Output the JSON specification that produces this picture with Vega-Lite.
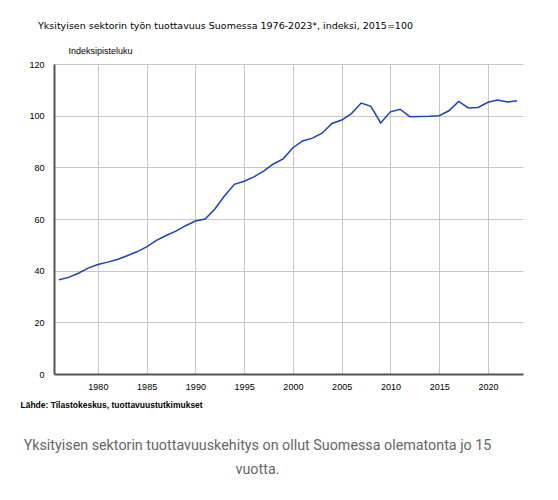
{
  "$schema": "https://vega.github.io/schema/vega-lite/v6.json",
  "width": 469,
  "height": 310,
  "autosize": {"type": "none"},
  "padding": {"left": 54, "top": 64, "right": 35, "bottom": 126},
  "background": "white",
  "title": {
    "text": "Yksityisen sektorin työn tuottavuus Suomessa 1976-2023*, indeksi, 2015=100",
    "anchor": "start",
    "frame": "group",
    "font": "DejaVu Sans",
    "fontSize": 9.5,
    "fontWeight": "normal",
    "color": "#000000",
    "baseline": "alphabetic",
    "dx": -16,
    "offset": 8
  },
  "config": {"view": {"stroke": null}},
  "data": {
    "values": [
      {"vuosi": 1976, "indeksi": 36.5},
      {"vuosi": 1977, "indeksi": 37.4},
      {"vuosi": 1978, "indeksi": 39.0},
      {"vuosi": 1979, "indeksi": 41.0},
      {"vuosi": 1980, "indeksi": 42.4},
      {"vuosi": 1981, "indeksi": 43.3},
      {"vuosi": 1982, "indeksi": 44.3},
      {"vuosi": 1983, "indeksi": 45.8},
      {"vuosi": 1984, "indeksi": 47.3},
      {"vuosi": 1985, "indeksi": 49.2},
      {"vuosi": 1986, "indeksi": 51.7},
      {"vuosi": 1987, "indeksi": 53.6},
      {"vuosi": 1988, "indeksi": 55.3},
      {"vuosi": 1989, "indeksi": 57.4},
      {"vuosi": 1990, "indeksi": 59.2},
      {"vuosi": 1991, "indeksi": 60.0},
      {"vuosi": 1992, "indeksi": 63.9},
      {"vuosi": 1993, "indeksi": 69.0},
      {"vuosi": 1994, "indeksi": 73.4},
      {"vuosi": 1995, "indeksi": 74.6},
      {"vuosi": 1996, "indeksi": 76.3},
      {"vuosi": 1997, "indeksi": 78.5},
      {"vuosi": 1998, "indeksi": 81.3},
      {"vuosi": 1999, "indeksi": 83.3},
      {"vuosi": 2000, "indeksi": 87.6},
      {"vuosi": 2001, "indeksi": 90.2},
      {"vuosi": 2002, "indeksi": 91.3},
      {"vuosi": 2003, "indeksi": 93.2},
      {"vuosi": 2004, "indeksi": 97.0},
      {"vuosi": 2005, "indeksi": 98.3},
      {"vuosi": 2006, "indeksi": 100.8},
      {"vuosi": 2007, "indeksi": 104.9},
      {"vuosi": 2008, "indeksi": 103.6},
      {"vuosi": 2009, "indeksi": 97.2},
      {"vuosi": 2010, "indeksi": 101.5},
      {"vuosi": 2011, "indeksi": 102.5},
      {"vuosi": 2012, "indeksi": 99.6},
      {"vuosi": 2013, "indeksi": 99.7},
      {"vuosi": 2014, "indeksi": 99.8},
      {"vuosi": 2015, "indeksi": 100.0},
      {"vuosi": 2016, "indeksi": 101.9},
      {"vuosi": 2017, "indeksi": 105.5},
      {"vuosi": 2018, "indeksi": 103.0},
      {"vuosi": 2019, "indeksi": 103.2},
      {"vuosi": 2020, "indeksi": 105.2},
      {"vuosi": 2021, "indeksi": 106.1},
      {"vuosi": 2022, "indeksi": 105.3},
      {"vuosi": 2023, "indeksi": 105.8}
    ]
  },
  "layer": [
    {
      "mark": {"type": "line", "color": "#1e40c0", "strokeWidth": 1.5},
      "encoding": {
        "x": {
          "field": "vuosi",
          "type": "quantitative",
          "scale": {"domain": [1975.5, 2023.6], "nice": false, "zero": false},
          "axis": {
            "values": [1980, 1985, 1990, 1995, 2000, 2005, 2010, 2015, 2020],
            "format": "d",
            "ticks": false,
            "labelPadding": 8,
            "labelFont": "Liberation Sans",
            "labelFontSize": 9,
            "labelColor": "#000000",
            "domainColor": "#555555",
            "domainWidth": 2,
            "gridColor": "#c8c8c8",
            "gridWidth": 1,
            "title": "Lähde: Tilastokeskus, tuottavuustutkimukset",
            "titleX": -34,
            "titleY": 30,
            "titleAlign": "left",
            "titleBaseline": "middle",
            "titleFont": "Liberation Sans",
            "titleFontSize": 8.5,
            "titleFontWeight": "bold",
            "titleColor": "#000000"
          }
        },
        "y": {
          "field": "indeksi",
          "type": "quantitative",
          "scale": {"domain": [0, 120], "nice": false},
          "axis": {
            "values": [0, 20, 40, 60, 80, 100, 120],
            "ticks": false,
            "labelPadding": 10,
            "labelFont": "Liberation Sans",
            "labelFontSize": 9,
            "labelColor": "#000000",
            "domainColor": "#555555",
            "domainWidth": 2,
            "gridColor": "#c8c8c8",
            "gridWidth": 1,
            "title": "Indeksipisteluku",
            "titleAngle": 0,
            "titleX": 14,
            "titleY": -14,
            "titleAlign": "left",
            "titleBaseline": "middle",
            "titleFont": "Liberation Sans",
            "titleFontSize": 9,
            "titleFontWeight": "normal",
            "titleColor": "#000000"
          }
        }
      }
    },
    {
      "mark": {"type": "point", "opacity": 0, "size": 1},
      "encoding": {
        "x": {
          "field": "vuosi",
          "type": "quantitative",
          "axis": {
            "orient": "top",
            "domain": false,
            "labels": false,
            "ticks": false,
            "grid": false,
            "title": ["Yksityisen sektorin tuottavuuskehitys on ollut Suomessa olematonta jo 15", "vuotta."],
            "titleX": 203,
            "titleY": 385,
            "titleAlign": "center",
            "titleBaseline": "alphabetic",
            "titleLineHeight": 24,
            "titleFont": "Roboto",
            "titleFontSize": 14.3,
            "titleFontWeight": "normal",
            "titleColor": "#666666"
          }
        }
      }
    }
  ],
  "resolve": {"axis": {"x": "independent"}}
}
